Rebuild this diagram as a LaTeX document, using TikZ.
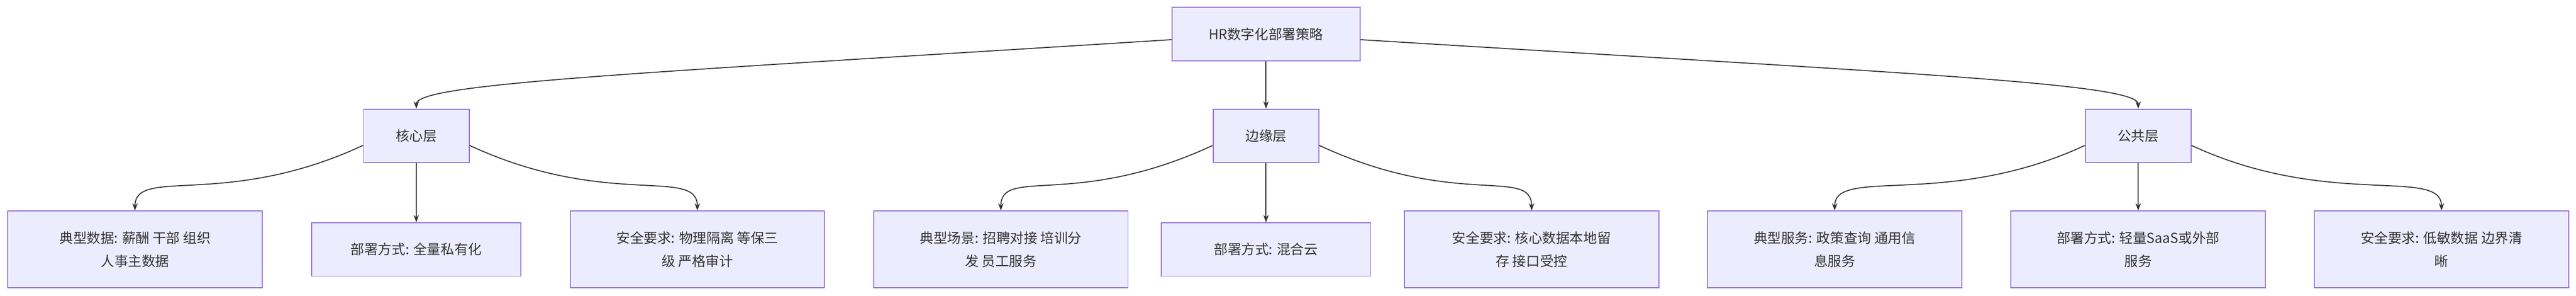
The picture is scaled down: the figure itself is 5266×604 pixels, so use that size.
\documentclass[tikz,border=0pt]{standalone}
\usepackage{fontspec}
\setmainfont{Noto Sans CJK SC}
\usetikzlibrary{arrows.meta,calc}
\definecolor{boxfill}{HTML}{ECECFF}
\definecolor{boxline}{HTML}{9370DB}
\definecolor{edge}{HTML}{333333}
\begin{document}
\begin{tikzpicture}[x=0.5pt,y=-0.5pt,
  box/.style={draw=boxline,fill=boxfill,line width=1pt,inner sep=0pt,align=center,font=\fontsize{14}{24}\selectfont,text=edge},
  mid/.style={box,minimum width=108pt,minimum height=54.5pt},
  leaf/.style={box,minimum width=260pt,minimum height=78.5pt},
  leafs/.style={box,minimum width=214pt,minimum height=54.5pt},
  arr/.style={draw=edge,line width=1pt,-{Stealth[length=7.5pt,width=5.5pt]}}]
\useasboundingbox (0,0) rectangle (5266,604);
\node[box,minimum width=192pt,minimum height=54.5pt] (top) at (2588,69.5) {HR数字化部署策略};
\node[mid] (c) at (851,277.5) {核心层};
\node[mid] (e) at (2588,277.5) {边缘层};
\node[mid] (p) at (4371,277.5) {公共层};
\node[leaf] (c1) at (276,509.5) {典型数据: 薪酬 干部 组织\\人事主数据};
\node[leafs] (c2) at (851,509.5) {部署方式: 全量私有化};
\node[leaf] (c3) at (1425.5,509.5) {安全要求: 物理隔离 等保三\\级 严格审计};
\node[leaf] (e1) at (2046,509.5) {典型场景: 招聘对接 培训分\\发 员工服务};
\node[leafs] (e2) at (2588,509.5) {部署方式: 混合云};
\node[leaf] (e3) at (3131,509.5) {安全要求: 核心数据本地留\\存 接口受控};
\node[leaf] (p1) at (3750.5,509.5) {典型服务: 政策查询 通用信\\息服务};
\node[leaf] (p2) at (4371,509.5) {部署方式: 轻量SaaS或外部\\服务};
\node[leaf] (p3) at (4991,509.5) {安全要求: 低敏数据 边界清\\晰};
% top level
\draw[arr] (top.west|-0,81) .. controls (1300,150) and (851,170) .. (c.north);
\draw[arr] (top) -- (e);
\draw[arr] (top.east|-0,81) .. controls (3900,150) and (4371,170) .. (p.north);
% children
\foreach \m in {c,e,p}{
  \draw[arr] (\m.west|-0,297) .. controls ($(\m.west|-0,297)+(-280,130)$) and ($(\m1.north)+(0,-90)$) .. (\m1.north);
  \draw[arr] (\m) -- (\m2);
  \draw[arr] (\m.east|-0,297) .. controls ($(\m.east|-0,297)+(280,130)$) and ($(\m3.north)+(0,-90)$) .. (\m3.north);
}
\end{tikzpicture}
\end{document}
